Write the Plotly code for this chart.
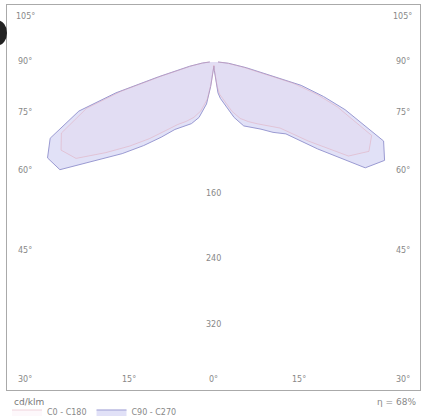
import numpy as np
import plotly.graph_objects as go

# ---- data (cd/klm) ----
gamma = [0, 2.5, 5, 7.5, 10, 15, 20, 25, 30, 35, 40, 45, 50, 55, 60, 65, 70, 72.5, 75, 80, 85, 90]
c90 = [5, 10, 20, 38, 45, 55, 72, 86, 92, 100, 112, 124, 165, 225, 240, 228, 170, 140, 110, 40, 18, 5]
c270 = [5, 8, 15, 30, 52, 70, 80, 87, 95, 112, 133, 158, 186, 229, 234, 220, 175, 125, 70, 30, 14, 5]
c0 = [4, 8, 16, 30, 40, 50, 64, 76, 84, 92, 102, 114, 150, 200, 218, 212, 160, 132, 100, 36, 16, 5]
c180 = [4, 7, 14, 27, 46, 62, 72, 80, 88, 102, 122, 145, 172, 205, 215, 205, 165, 118, 66, 28, 13, 5]

radial_ticks = [160, 240, 320]
angle_labels = [30, 45, 60, 75, 90, 105]
bottom_labels = [-30, -15, 0, 15, 30]
efficiency = "η = 68%"
unit = "cd/klm"


def curve(left, right):
    g = np.radians(np.array(gamma, dtype=float))
    L = np.array(left, dtype=float)
    R = np.array(right, dtype=float)
    xl = -L * np.sin(g)
    yl = -L * np.cos(g)
    xr = R * np.sin(g)
    yr = -R * np.cos(g)
    x = np.concatenate([xl[::-1], xr])
    y = np.concatenate([yl[::-1], yr])
    return x, y


fig = go.Figure()

xb, yb = curve(c270, c90)
fig.add_trace(go.Scatter(x=xb, y=yb, mode="lines", fill="toself",
                         fillcolor="rgba(205,205,242,0.6)",
                         line=dict(color="#9a9ad2", width=1),
                         name="C90 - C270", legendrank=2))
xr_, yr_ = curve(c180, c0)
fig.add_trace(go.Scatter(x=xr_, y=yr_, mode="lines", fill="toself",
                         fillcolor="rgba(240,190,215,0.10)",
                         line=dict(color="rgba(225,160,175,0.55)", width=0.8),
                         name="C0 - C180", legendrank=1))

# label rectangle (data units)
XL, YB, YT = 230, 387, 55
lab_font = dict(size=8, color="#888", family="DejaVu Sans")
for a in angle_labels:
    g = np.radians(a)
    for side in (-1, 1):
        x = side * XL
        y = -XL / np.tan(g) if a != 90 else 0.0
        y = max(min(y, YT), -YB)
        fig.add_annotation(x=x, y=y, text=f"{a}°", showarrow=False, font=lab_font)
for a in bottom_labels:
    if abs(a) == 30:
        continue
    x = YB * np.tan(np.radians(a))
    fig.add_annotation(x=x, y=-YB, text=f"{abs(a)}°", showarrow=False, font=lab_font)
for r in radial_ticks:
    fig.add_annotation(x=0, y=-r, text=str(r), showarrow=False, font=lab_font)

fig.add_annotation(xref="paper", yref="paper", x=0.012, y=-0.03, xanchor="left", yanchor="middle",
                   text=unit, showarrow=False, font=dict(size=9, color="#777", family="DejaVu Sans"))
fig.add_annotation(xref="paper", yref="paper", x=0.995, y=-0.03, xanchor="right", yanchor="middle",
                   text=efficiency, showarrow=False, font=dict(size=9, color="#888", family="DejaVu Sans"))

# scan blob at left edge
fig.add_shape(type="circle", xref="paper", yref="paper", x0=-0.045, x1=0.0, y0=0.895, y1=0.96,
              fillcolor="#222", line=dict(width=0))

ax = dict(showgrid=False, zeroline=False, showticklabels=False, ticks="",
          showline=True, mirror=True, linecolor="#aaa", linewidth=1)
fig.update_xaxes(range=[-252, 251], **ax)
fig.update_yaxes(range=[-400, 69.5], **ax)

fig.update_layout(
    width=422, height=417,
    margin=dict(l=7, r=2, t=5, b=27, autoexpand=False),
    paper_bgcolor="white", plot_bgcolor="white",
    showlegend=True,
    legend=dict(orientation="h", x=0.0, y=0.012, xanchor="left", yanchor="middle",
                yref="container",
                font=dict(size=8, color="#888", family="DejaVu Sans"),
                itemwidth=30, bgcolor="rgba(0,0,0,0)", tracegroupgap=0),
)

fig.write_html("out.html", config={"displayModeBar": False},
               post_script="document.body.style.margin='0';")
